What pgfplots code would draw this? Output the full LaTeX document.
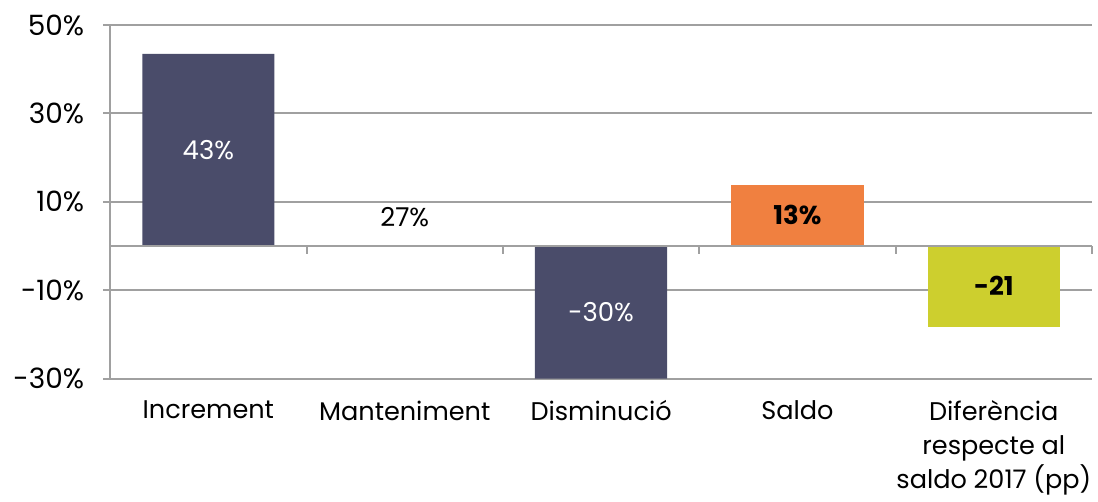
\documentclass[border=0pt]{standalone}
\usepackage{fontspec}
\setmainfont{Poppins}
\usepackage{pgfplots}
\pgfplotsset{compat=1.18}
\definecolor{navy}{RGB}{74,76,106}
\definecolor{orng}{RGB}{240,128,64}
\definecolor{lime}{RGB}{205,207,46}
\definecolor{gridgray}{RGB}{160,160,160}
\begin{document}
\begin{tikzpicture}[font=\fontsize{13}{17}\selectfont]
\begin{axis}[
    scale only axis,
    width=490bp, height=176.5bp,
    xmin=-0.5, xmax=4.5,
    ymin=-30, ymax=50,
    ytick={-30,-10,10,30,50},
    yticklabel={\pgfmathprintnumber{\tick}\%},
    /pgf/number format/assume math mode=true,
    axis y line=left,
    axis x line=bottom,
    x axis line style={draw=none},
    y axis line style={gridgray, line width=1bp, -},
    ymajorgrids,
    grid style={gridgray, line width=1bp},
    ytick style={gridgray, line width=1bp},
    major tick length=3.5bp,
    tick align=outside,
    xtick={0,1,2,3,4},
    xticklabels={Increment, Manteniment, Disminució, Saldo, {Diferència\\respecte al\\saldo 2017 (pp)}},
    xticklabel style={align=center, yshift=-4bp, font=\fontsize{12.8}{17}\selectfont},
    xtick style={draw=none},
    yticklabel style={xshift=-6bp, font=\fontsize{14}{17}\selectfont},
    ybar, bar width=66bp, bar shift=0pt,
    clip=false,
]
\addplot[fill=navy, draw=none] coordinates {(0,43.5) (2,-30)};
\addplot[fill=orng, draw=none] coordinates {(3,13.8)};
\addplot[fill=lime, draw=none] coordinates {(4,-18.2)};
\draw[gridgray, line width=1bp] (axis cs:-0.5,0) -- (axis cs:4.5,0);
\draw[gridgray, line width=1bp] (axis cs:0.5,0) -- ([yshift=-4bp]axis cs:0.5,0);
\draw[gridgray, line width=1bp] (axis cs:1.5,0) -- ([yshift=-4bp]axis cs:1.5,0);
\draw[gridgray, line width=1bp] (axis cs:2.5,0) -- ([yshift=-4bp]axis cs:2.5,0);
\draw[gridgray, line width=1bp] (axis cs:3.5,0) -- ([yshift=-4bp]axis cs:3.5,0);
\draw[gridgray, line width=1bp] (axis cs:4.5,0) -- ([yshift=-4bp]axis cs:4.5,0);
\path ([xshift=-55bp]rel axis cs:0,0);
\path ([yshift=12.5bp]rel axis cs:0,1);
\path ([xshift=3bp]rel axis cs:1,0);
\node[white] at (axis cs:0,21.7) {43\%};
\node[black] at (axis cs:1,6.6) {27\%};
\node[white] at (axis cs:2,-15) {-30\%};
\node[black, font=\fontsize{13}{17}\selectfont\bfseries] at (axis cs:3,7) {13\%};
\node[black, font=\fontsize{13}{17}\selectfont\bfseries] at (axis cs:4,-9.1) {-21};
\end{axis}
\end{tikzpicture}
\end{document}
